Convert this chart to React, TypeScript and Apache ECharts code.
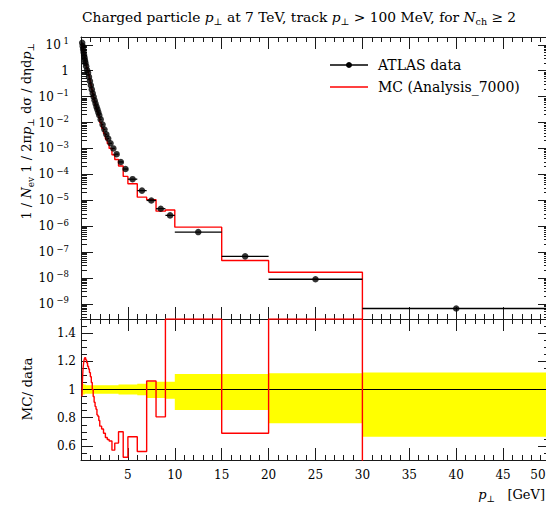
import React, { useEffect, useRef } from "react";
import * as echarts from "echarts";

// ---- data ----
const binEdges = [
  0.1, 0.15, 0.2, 0.25, 0.3, 0.35, 0.4, 0.45, 0.5,
  0.6, 0.7, 0.8, 0.9, 1.0, 1.1, 1.2, 1.3, 1.4, 1.5, 1.6, 1.7, 1.8, 1.9, 2.0,
  2.2, 2.4, 2.6, 2.8, 3.0, 3.3, 3.6, 4.0, 4.5, 5, 6, 7, 8, 9, 10, 15, 20, 30, 50,
];
const dataValues = [
  12.0, 8.9, 6.8, 5.1, 4.0, 3.2, 2.5, 2.0,
  1.5, 1.07, 0.83, 0.575, 0.4, 0.275, 0.19, 0.135, 0.098, 0.072, 0.054, 0.041, 0.032, 0.0245, 0.019,
  0.0132, 0.0083, 0.0054, 0.0035, 0.0024,
  0.00158, 0.001, 6.0e-4, 3.0e-4, 1.6e-4,
  6.5e-5, 2.35e-5, 9.8e-6, 4.7e-6, 2.6e-6,
  5.9e-7, 6.8e-8, 8.9e-9, 6.6e-10,
];
const ratioValues = [
  0.95, 1.06, 1.13, 1.17, 1.2, 1.215, 1.225, 1.225,
  1.21, 1.19, 1.165, 1.145, 1.12, 1.09, 1.05, 1.0, 0.95, 0.91, 0.88, 0.86, 0.82, 0.81, 0.78,
  0.74, 0.72, 0.69, 0.66, 0.645,
  0.635, 0.57, 0.62, 0.7, 0.52,
  0.665, 0.56, 1.06, 0.806, 1.62,
  1.55, 0.69, 1.87, 0,
];
const bandUp = [
  1.04, 1.04, 1.04, 1.04, 1.035, 1.035, 1.035, 1.035,
  1.03, 1.03, 1.03, 1.03, 1.03, 1.03, 1.03, 1.03, 1.03, 1.03, 1.03, 1.03, 1.03, 1.03, 1.03,
  1.03, 1.03, 1.03, 1.03, 1.03,
  1.03, 1.03, 1.03, 1.035, 1.035,
  1.035, 1.04, 1.055, 1.055, 1.055,
  1.11, 1.11, 1.115, 1.12,
];
const bandDown = [
  0.96, 0.96, 0.965, 0.965, 0.965, 0.965, 0.97, 0.97,
  0.97, 0.97, 0.97, 0.97, 0.97, 0.97, 0.97, 0.97, 0.97, 0.97, 0.97, 0.97, 0.97, 0.97, 0.97,
  0.97, 0.97, 0.97, 0.97, 0.97,
  0.97, 0.97, 0.97, 0.965, 0.965,
  0.965, 0.96, 0.94, 0.94, 0.935,
  0.855, 0.855, 0.76, 0.665,
];
const decadeTicks = [10, 1, 0.1, 0.01, 0.001, 1e-4, 1e-5, 1e-6, 1e-7, 1e-8, 1e-9, 1e-10];
const minorMultipliers = [2, 3, 4, 5, 6, 7, 8, 9];
const ratioMajorTicks = [0.6, 0.8, 1.0, 1.2, 1.4];
const ratioMinorTicks = [0.55, 0.65, 0.7, 0.75, 0.85, 0.9, 0.95, 1.05, 1.1, 1.15, 1.25, 1.3, 1.35, 1.45];

const X_MIN = 0;
const X_MAX = 50;
const Y_MIN = 2.6e-10;
const Y_MAX = 20;
const R_MIN = 0.5;
const R_MAX = 1.5;
const LOG_FLOOR = 1e-14;

const FONT = "DejaVu Serif";
const INK = "#1a1a1a";
const RED = "#ff0000";

const logMinorTicks = decadeTicks
  .flatMap((d) => minorMultipliers.map((m) => m * d))
  .filter((v) => v > Y_MIN && v < Y_MAX);

function buildOption() {
  const nb = dataValues.length;
  const mcStep: number[][] = [];
  const ratioStep: number[][] = [];
  const points: number[][] = [];
  const errBars: number[][] = [];
  for (let i = 0; i < nb; i++) {
    const lo = binEdges[i];
    const hi = binEdges[i + 1];
    const mc = dataValues[i] * ratioValues[i];
    const mcY = mc > 0 ? mc : LOG_FLOOR;
    mcStep.push([lo, mcY], [hi, mcY]);
    const r = Math.min(ratioValues[i], R_MAX);
    ratioStep.push([lo, r], [hi, r]);
    points.push([(lo + hi) / 2, dataValues[i]]);
    errBars.push([lo, hi, dataValues[i]]);
  }

  const tickStyle = { color: INK, width: 1 };
  const xAxisDef = (gridIndex: number, position: string, labels: boolean) => ({
    type: "value",
    gridIndex,
    position,
    min: X_MIN,
    max: X_MAX,
    interval: 5,
    axisLine: { show: true, onZero: false, lineStyle: tickStyle },
    axisTick: { show: true, inside: true, length: 12, lineStyle: tickStyle },
    minorTick: { show: true, splitNumber: 5, length: 5, lineStyle: tickStyle },
    splitLine: { show: false },
    minorSplitLine: { show: false },
    axisLabel: labels
      ? {
          show: true,
          margin: 9,
          fontFamily: FONT,
          fontSize: 12,
          color: "#000",
          formatter: (v: number) => (v === 0 ? "" : v === X_MAX ? "{e|" + v + "}" : String(v)),
          rich: {
            e: { fontFamily: FONT, fontSize: 12, color: "#000", padding: [0, 24, 0, 0] },
          },
        }
      : { show: false },
  });

  const supRich = {
    b: { fontFamily: FONT, fontSize: 12, color: "#000", lineHeight: 16 },
    sup: { fontFamily: FONT, fontSize: 8.5, color: "#000", lineHeight: 9, verticalAlign: "top" },
  };

  const logAxisDef = (position: string, ticks: number[], len: number, labels: boolean, line: boolean) => ({
    type: "log",
    gridIndex: 0,
    position,
    min: Y_MIN,
    max: Y_MAX,
    axisLine: { show: line, onZero: false, lineStyle: tickStyle },
    axisTick: { show: true, inside: true, length: len, customValues: ticks, lineStyle: tickStyle },
    splitLine: { show: false },
    minorTick: { show: false },
    axisLabel: labels
      ? {
          show: true,
          margin: 12,
          customValues: decadeTicks.filter((v) => v > Y_MIN && v < Y_MAX),
          formatter: (v: number) => {
            const n = Math.round(Math.log10(v));
            if (n === 0) return "{b|1}";
            return "{b|10}{sup| " + (n < 0 ? "\u2212" + -n : String(n)) + "}";
          },
          rich: supRich,
        }
      : { show: false },
  });

  const ratioAxisDef = (position: string, ticks: number[], len: number, labels: boolean, line: boolean) => ({
    type: "value",
    gridIndex: 1,
    position,
    min: R_MIN,
    max: R_MAX,
    axisLine: { show: line, onZero: false, lineStyle: tickStyle },
    axisTick: { show: true, inside: true, length: len, customValues: ticks, lineStyle: tickStyle },
    splitLine: { show: false },
    minorTick: { show: false },
    axisLabel: labels
      ? {
          show: true,
          margin: 5,
          customValues: ratioMajorTicks,
          fontFamily: FONT,
          fontSize: 12,
          color: "#000",
          formatter: (v: number) => String(Math.round(v * 10) / 10),
        }
      : { show: false },
  });

  const rich = {
    i: { fontFamily: FONT, fontSize: 13, fontStyle: "italic", color: "#000", lineHeight: 18 },
    sub: { fontFamily: FONT, fontSize: 9, color: "#000", lineHeight: 9, verticalAlign: "bottom" },
  };
  const titleRich = {
    i: { fontFamily: FONT, fontSize: 13.8, fontStyle: "italic", color: "#000", lineHeight: 18 },
    sub: { fontFamily: FONT, fontSize: 9.5, color: "#000", lineHeight: 9, verticalAlign: "bottom" },
  };

  return {
    animation: false,
    backgroundColor: "#ffffff",
    title: {
      text:
        "Charged particle {i|p}{sub|\u22a5} at 7 TeV, track {i|p}{sub|\u22a5} > 100 MeV, for {i|N}{sub|ch} \u2265 2",
      left: 77,
      top: 3,
      textStyle: {
        fontFamily: FONT,
        fontSize: 13.8,
        fontWeight: "normal",
        color: "#000",
        lineHeight: 18,
        rich: titleRich,
      },
    },
    grid: [
      { left: 81, top: 37, right: -4, height: 282, outerBoundsMode: "none", containLabel: false },
      { left: 81, top: 319, right: -4, height: 141, outerBoundsMode: "none", containLabel: false },
    ],
    xAxis: [
      xAxisDef(0, "bottom", false),
      xAxisDef(0, "top", false),
      xAxisDef(1, "bottom", true),
      xAxisDef(1, "top", false),
    ],
    yAxis: [
      logAxisDef("left", decadeTicks, 12, true, true),
      logAxisDef("left", logMinorTicks, 6, false, false),
      logAxisDef("right", decadeTicks, 12, false, true),
      logAxisDef("right", logMinorTicks, 6, false, false),
      ratioAxisDef("left", ratioMajorTicks, 12, true, true),
      ratioAxisDef("left", ratioMinorTicks, 6, false, false),
      ratioAxisDef("right", ratioMajorTicks, 12, false, true),
      ratioAxisDef("right", ratioMinorTicks, 6, false, false),
    ],
    graphic: [
      {
        type: "text",
        x: 26,
        y: 43,
        rotation: Math.PI / 2,
        style: {
          text: "1 / {i|N}{sub|ev} 1 / 2\u03c0{i|p}{sub|\u22a5} d\u03c3 / d\u03b7d{i|p}{sub|\u22a5}",
          fontFamily: FONT,
          fontSize: 13,
          fill: "#000",
          lineHeight: 18,
          align: "right",
          verticalAlign: "middle",
          rich,
        },
      },
      {
        type: "text",
        x: 27,
        y: 389,
        rotation: Math.PI / 2,
        style: {
          text: "MC/ data",
          fontFamily: FONT,
          fontSize: 13.5,
          fill: "#000",
          align: "center",
          verticalAlign: "middle",
        },
      },
      {
        type: "text",
        x: 545,
        y: 494,
        style: {
          text: "{i|p}{sub|\u22a5}   [GeV]",
          fontFamily: FONT,
          fontSize: 13,
          fill: "#000",
          lineHeight: 18,
          align: "right",
          verticalAlign: "middle",
          rich,
        },
      },
      { type: "line", shape: { x1: 330, y1: 65, x2: 368, y2: 65 }, style: { stroke: "#000", lineWidth: 1.3 } },
      { type: "circle", shape: { cx: 349, cy: 65, r: 3 }, style: { fill: "#000" } },
      {
        type: "text",
        x: 378,
        y: 65,
        style: { text: "ATLAS data", fontFamily: FONT, fontSize: 14, fill: "#000", verticalAlign: "middle" },
      },
      { type: "line", shape: { x1: 330, y1: 87, x2: 368, y2: 87 }, style: { stroke: RED, lineWidth: 1.4 } },
      {
        type: "text",
        x: 378,
        y: 87,
        style: { text: "MC (Analysis_7000)", fontFamily: FONT, fontSize: 14, fill: "#000", verticalAlign: "middle" },
      },
    ],
    series: [
      {
        name: "MC (Analysis_7000)",
        type: "line",
        xAxisIndex: 0,
        yAxisIndex: 0,
        data: mcStep,
        showSymbol: false,
        symbol: "none",
        clip: true,
        lineStyle: { color: RED, width: 1.4 },
        z: 3,
      },
      {
        name: "errors",
        type: "custom",
        xAxisIndex: 0,
        yAxisIndex: 0,
        clip: true,
        data: errBars,
        encode: { x: [0, 1], y: 2 },
        renderItem: (_p: any, api: any) => {
          const a = api.coord([api.value(0), api.value(2)]);
          const b = api.coord([api.value(1), api.value(2)]);
          return {
            type: "line",
            shape: { x1: a[0], y1: a[1], x2: b[0], y2: b[1] },
            style: { stroke: "#000", lineWidth: 1.3 },
          };
        },
        z: 4,
      },
      {
        name: "ATLAS data",
        type: "scatter",
        xAxisIndex: 0,
        yAxisIndex: 0,
        data: points,
        symbol: "circle",
        symbolSize: 6.5,
        itemStyle: { color: "#000" },
        z: 5,
      },
      {
        name: "band",
        type: "custom",
        xAxisIndex: 2,
        yAxisIndex: 4,
        clip: true,
        data: [[X_MIN, 1]],
        renderItem: (_p: any, api: any) => {
          const pts: number[][] = [];
          for (let i = 0; i < bandUp.length; i++) {
            pts.push(api.coord([binEdges[i], bandUp[i]]), api.coord([binEdges[i + 1], bandUp[i]]));
          }
          for (let i = bandDown.length - 1; i >= 0; i--) {
            pts.push(api.coord([binEdges[i + 1], bandDown[i]]), api.coord([binEdges[i], bandDown[i]]));
          }
          return { type: "polygon", shape: { points: pts }, style: { fill: "#ffff00", stroke: "none" } };
        },
        z: 1,
      },
      {
        name: "unity",
        type: "line",
        xAxisIndex: 2,
        yAxisIndex: 4,
        data: [
          [X_MIN, 1],
          [X_MAX, 1],
        ],
        showSymbol: false,
        symbol: "none",
        lineStyle: { color: "#000", width: 1 },
        z: 2,
      },
      {
        name: "ratio",
        type: "line",
        xAxisIndex: 2,
        yAxisIndex: 4,
        data: ratioStep,
        showSymbol: false,
        symbol: "none",
        clip: true,
        lineStyle: { color: RED, width: 1.4 },
        z: 3,
      },
    ],
  };
}

export default function App() {
  const ref = useRef<HTMLDivElement>(null);
  useEffect(() => {
    document.body.style.margin = "0";
    if (!ref.current) return;
    const chart = echarts.init(ref.current, undefined, { renderer: "svg" });
    chart.setOption(buildOption() as any);
    return () => chart.dispose();
  }, []);
  return <div ref={ref} style={{ width: 546, height: 507, background: "#fff" }} />;
}
